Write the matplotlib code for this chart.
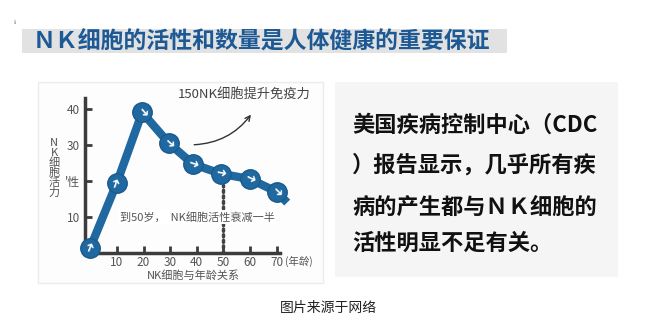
import numpy as np
import matplotlib
matplotlib.use('Agg')
import matplotlib.pyplot as plt
from matplotlib.patches import Rectangle, FancyArrowPatch

plt.rcParams['font.family'] = ['Noto Sans CJK SC', 'DejaVu Sans']

# data
ages = [0, 10, 19.5, 29.5, 38.5, 49, 60, 70]
activity = [1.5, 19.5, 39, 30.5, 24.7, 22, 20.5, 17]
tail_age = 74
tail_activity = 14
xticks = [10, 20, 30, 40, 50, 60, 70]
yticks = [10, 20, 30, 40]
ytick_labels = ['10', "'性", '30', '40']
half_age = 50
half_level = 19

title = 'ＮＫ细胞的活性和数量是人体健康的重要保证'
side_lines = ['美国疾病控制中心（CDC', '）报告显示，几乎所有疾', '病的产生都与ＮＫ细胞的', '活性明显不足有关。']
caption = '图片来源于网络'

W, H = 649, 330
fig = plt.figure(figsize=(W / 100, H / 100), dpi=100)

def px(x, y):
    return x / W, 1 - y / H

# background boxes
for (x0, y0, w, h, fc, ec) in [(38, 283, 285, 201, '#fdfdfd', '#ececec'),
                               (335, 277, 283, 195, '#f5f5f5', 'none'),
                               (22, 53, 485, 24, '#e2e2e2', 'none')]:
    fig.patches.append(Rectangle(px(x0, y0), w / W, h / H, transform=fig.transFigure,
                                 facecolor=fc, edgecolor=ec, lw=1, zorder=-5))

fig.text(*px(33, 41), title, fontsize=16.5, fontweight='heavy', color='#1d5a95', va='center', ha='left')
fig.text(*px(15, 22), 'ℹ', fontsize=4, color='#999999', ha='center', va='center')

ys = [125, 165, 207, 243]
for line, y in zip(side_lines, ys):
    fig.text(*px(352, y), line, fontsize=16, fontweight='heavy', color='#111111', va='center', ha='left')

fig.text(*px(328, 308), caption, fontsize=10, color='#222222', ha='center', va='center')

# chart
ax = fig.add_axes([85 / W, 77 / H, 195 / W, 155 / H])
ax.set_facecolor('none')
ax.set_xlim(-2, 71.3)
ax.set_ylim(0, 43)
for s in ['top', 'right']:
    ax.spines[s].set_visible(False)
for s in ['left', 'bottom']:
    ax.spines[s].set_color('#3c3c3c')
    ax.spines[s].set_linewidth(2.5)
ax.set_xticks(xticks)
ax.set_yticks(yticks)
ax.set_yticklabels(ytick_labels)
ax.tick_params(direction='in', length=5, width=2, color='#3c3c3c', labelcolor='#555555', labelsize=8.5)
ax.tick_params(axis='x', pad=2)

blue = '#1f68a0'
ax.plot(ages + [tail_age], activity + [tail_activity], color=blue, lw=6, clip_on=False,
        solid_capstyle='butt', zorder=3)
ax.plot(ages, activity, 'o', ms=14, color=blue, mec='#1a5a8c', mew=1, clip_on=False, zorder=4)

# white arrows inside the circles, pointing along the next segment
fig.canvas.draw()
pts = ax.transData.transform(np.column_stack([ages + [tail_age], activity + [tail_activity]]))
for i in range(len(ages)):
    d = pts[i + 1] - pts[i]
    ang = np.degrees(np.arctan2(d[1], d[0]))
    ax.text(ages[i], activity[i], '➜', family='DejaVu Sans', fontsize=9, color='white',
            rotation=ang, rotation_mode='anchor', ha='center', va='center', zorder=5, clip_on=False)

ax.plot([half_age, half_age], [0, half_level], color='#444444', lw=2.5, ls=(0, (0.6, 1.0)),
        dash_capstyle='round', zorder=2)
ax.text(11, 10, '到50岁，  NK细胞活性衰减一半', fontsize=8, color='#555555', va='center', ha='left',
        zorder=3, bbox=dict(facecolor='white', edgecolor='none', pad=1))

ax.text(33, 44, '150NK细胞提升免疫力', fontsize=9.5, color='#444444', va='center', ha='left',
        clip_on=False)
arr = FancyArrowPatch((38, 30), (61, 39), connectionstyle='arc3,rad=0.25', arrowstyle='->',
                      mutation_scale=9, lw=1, color='#333333', transform=ax.transData)
ax.add_patch(arr)

ax.text(73, -2.2, '(年龄)', fontsize=7.5, color='#555555', va='center', ha='left', clip_on=False)
fig.text(*px(193, 275), 'NK细胞与年龄关系', fontsize=8, color='#555555', ha='center', va='center')
fig.text(*px(54, 168), '\n'.join('NK细胞活力'), fontsize=8, color='#555555', ha='center', va='center',
         linespacing=0.95)

fig.savefig('out.png', dpi=100)
